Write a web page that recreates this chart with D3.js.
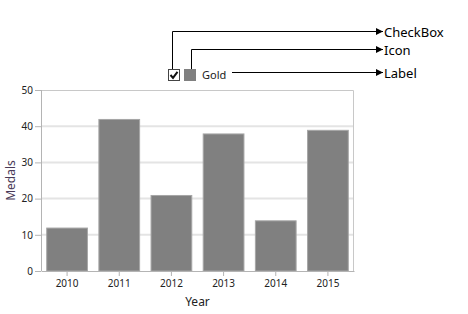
<!DOCTYPE html>
<html>
<head>
<meta charset="utf-8">
<script src="https://cdn.jsdelivr.net/npm/d3@7/dist/d3.min.js"></script>
<style>
  body { margin: 0; background: #fff; }
  text { font-family: "Noto Sans", "Open Sans", sans-serif; }
</style>
</head>
<body>
<div id="chart"></div>
<script>
// chart data
var years = ["2010", "2011", "2012", "2013", "2014", "2015"];
var medals = [12, 42, 21, 38, 14, 39];
var yTicks = [0, 10, 20, 30, 40, 50];
var seriesName = "Gold";
var callouts = ["CheckBox", "Icon", "Label"];

var svgWidth = 468;
var svgHeight = 314;

var margin = { top: 90, right: 114, bottom: 43, left: 41 };
var chart_width = svgWidth - margin.left - margin.right;
var chart_height = svgHeight - margin.top - margin.bottom;

var svg = d3.select("#chart")
    .append("svg")
    .attr("width", svgWidth)
    .attr("height", svgHeight);

var chart_group = svg.append("g")
    .attr("transform", `translate(${margin.left}, ${margin.top})`);

// scales
var xScale = d3.scaleBand()
    .domain(years)
    .range([0, chart_width])
    .paddingInner(0.2)
    .paddingOuter(0.1);

var yScale = d3.scaleLinear()
    .domain([0, 50])
    .range([chart_height, 0]);

// gridlines
chart_group.selectAll(".grid")
    .data(yTicks.filter(d => d > 0 && d < 50))
    .enter()
    .append("line")
    .attr("x1", 0)
    .attr("x2", chart_width)
    .attr("y1", d => yScale(d))
    .attr("y2", d => yScale(d))
    .attr("stroke", "#e4e4e4")
    .attr("stroke-width", 2);

// plot border (top + right)
chart_group.append("path")
    .attr("d", `M0.5,0.5H${chart_width - 0.5}V${chart_height}`)
    .attr("fill", "none")
    .attr("stroke", "#c8c8c8");

// bars
chart_group.selectAll(".bar")
    .data(medals)
    .enter()
    .append("rect")
    .attr("x", (d, i) => xScale(years[i]) + 0.5)
    .attr("y", d => yScale(d) + 0.5)
    .attr("width", xScale.bandwidth() - 1)
    .attr("height", d => chart_height - yScale(d) - 0.5)
    .attr("fill", "#808080")
    .attr("stroke", "#a6a6a6");

// axes
var yAxis = d3.axisLeft(yScale).tickValues(yTicks).tickSize(6).tickPadding(2);
var xAxis = d3.axisBottom(xScale).tickSize(5).tickPadding(4).tickSizeOuter(0);

var yG = chart_group.append("g").call(yAxis);
var xG = chart_group.append("g")
    .attr("transform", `translate(0, ${chart_height})`)
    .call(xAxis);

[yG, xG].forEach(function (g) {
    g.selectAll("path, line").attr("stroke", "#b4b4b4");
    g.selectAll("text").attr("font-size", "10px").attr("fill", "#222")
        .style("font-family", "'Noto Sans', sans-serif");
});
yG.select(".domain").attr("d", `M0.5,0V${chart_height}`);

// axis titles
chart_group.append("text")
    .attr("transform", `translate(${-26}, ${chart_height / 2}) rotate(-90)`)
    .attr("text-anchor", "middle")
    .attr("font-size", "12px")
    .attr("fill", "#4a3a58")
    .text("Medals");

chart_group.append("text")
    .attr("x", chart_width / 2)
    .attr("y", chart_height + 35)
    .attr("text-anchor", "middle")
    .attr("font-size", "12px")
    .attr("fill", "#222")
    .text("Year");

// legend
var legend = svg.append("g").attr("transform", "translate(168, 69)");

legend.append("rect")
    .attr("x", 0.5).attr("y", 0.5)
    .attr("width", 11).attr("height", 11)
    .attr("fill", "#fff")
    .attr("stroke", "#444");
legend.append("path")
    .attr("d", "M2.5,6 L5,8.8 L9.5,2.8")
    .attr("fill", "none")
    .attr("stroke", "#111")
    .attr("stroke-width", 2);

legend.append("rect")
    .attr("x", 16).attr("y", 0)
    .attr("width", 12).attr("height", 12)
    .attr("fill", "#808080");

legend.append("text")
    .attr("x", 34).attr("y", 10)
    .attr("font-size", "11px")
    .attr("fill", "#222")
    .text(seriesName);

// callout arrows
svg.append("defs").append("marker")
    .attr("id", "arrow")
    .attr("viewBox", "0 0 10 10")
    .attr("refX", 10).attr("refY", 5)
    .attr("markerWidth", 7).attr("markerHeight", 7)
    .attr("markerUnits", "userSpaceOnUse")
    .attr("orient", "auto")
    .append("path")
    .attr("d", "M0,0 L10,5 L0,10 Z")
    .attr("fill", "#000");

var calloutPaths = [
    "M172.5,69 V31.5 H383",
    "M191.5,69 V49.5 H383",
    "M232,72.5 H383"
];
var calloutY = [31.5, 49.5, 72.5];

svg.selectAll(".callout")
    .data(callouts)
    .enter()
    .append("path")
    .attr("d", (d, i) => calloutPaths[i])
    .attr("fill", "none")
    .attr("stroke", "#000")
    .attr("stroke-width", 1)
    .attr("marker-end", "url(#arrow)");

svg.selectAll(".callout-text")
    .data(callouts)
    .enter()
    .append("text")
    .attr("x", 384)
    .attr("y", (d, i) => calloutY[i])
    .attr("dominant-baseline", "central")
    .attr("font-size", "13px")
    .attr("fill", "#000")
    .text(d => d);
</script>
</body>
</html>
